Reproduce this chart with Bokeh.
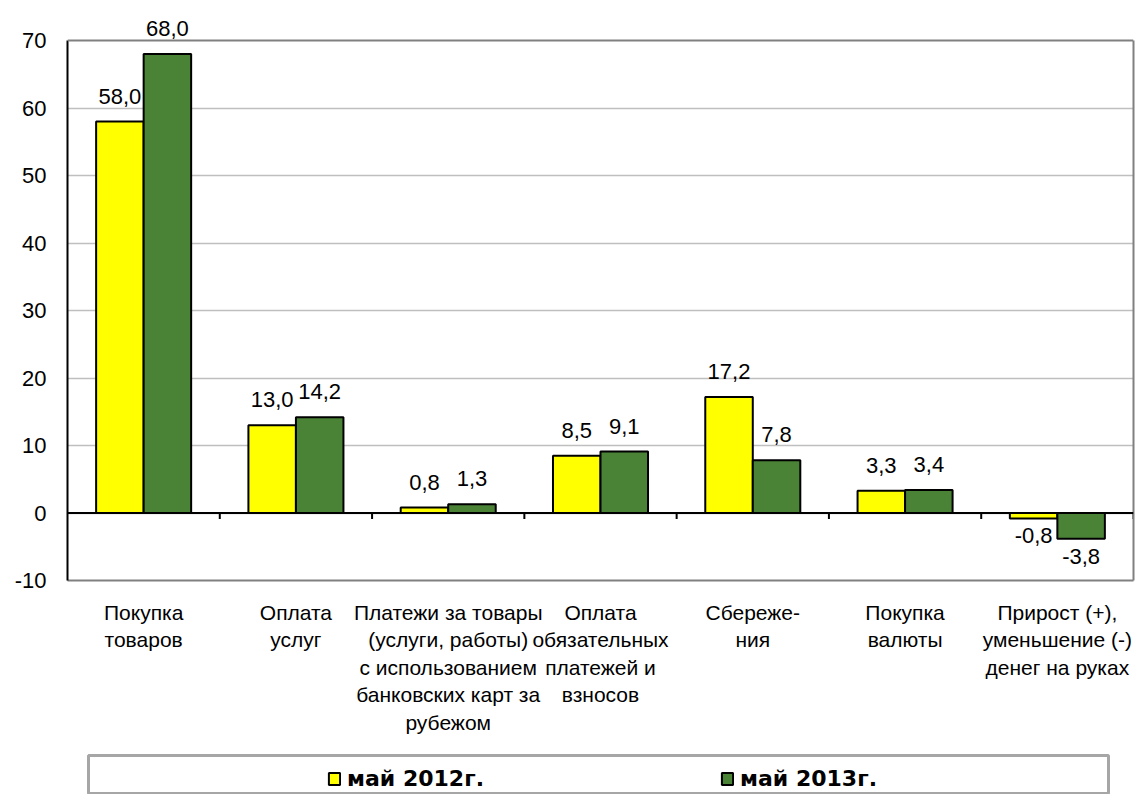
import numpy as np
from bokeh.plotting import figure
from bokeh.models import (Range1d, FixedTicker, Span, Legend, LegendItem, ColumnDataSource,
                          LabelSet, LinearAxis)
from bokeh.core.properties import value
from bokeh.layouts import column
from bokeh.embed import file_html
from bokeh.resources import INLINE

categories = [
    "Покупка\nтоваров",
    "Оплата\nуслуг",
    "Платежи за товары\n(услуги, работы)\nс использованием\nбанковских карт за\nрубежом",
    "Оплата\nобязательных\nплатежей и\nвзносов",
    "Сбереже-\nния",
    "Покупка\nвалюты",
    "Прирост (+),\nуменьшение (-)\nденег на руках",
]
may_2012 = [58.0, 13.0, 0.8, 8.5, 17.2, 3.3, -0.8]
may_2013 = [68.0, 14.2, 1.3, 9.1, 7.8, 3.4, -3.8]
series_names = ["май 2012г.", "май 2013г."]
y_ticks = [-10, 0, 10, 20, 30, 40, 50, 60, 70]

FONT = "Liberation Sans"
YELLOW = "#FFFF00"
GREEN = "#4A8236"
BORDER = "#808080"
n = len(categories)
bw = 0.312

def fmt(v):
    return f"{v:.1f}".replace(".", ",")

centers = [i + 0.5 for i in range(n)]
y_lo, y_hi = y_ticks[0], y_ticks[-1]
# a little head-room above the top tick so the label of the tallest bar is not cut
y_top = y_hi + 26 / 6.75

p = figure(width=1136, height=751, output_backend="svg", toolbar_location=None,
           x_range=Range1d(0, n), y_range=Range1d(y_lo, y_top),
           min_border_left=67, min_border_right=3, min_border_top=14, min_border_bottom=171)
p.frame_align = False
p.outline_line_color = None
p.background_fill_color = "white"
p.border_fill_color = "white"

# grid
p.xgrid.grid_line_color = None
p.ygrid.grid_line_color = "#BFBFBF"
p.ygrid.grid_line_width = 1.5
p.ygrid.ticker = FixedTicker(ticks=y_ticks[:-1])

# y axis (left)
p.yaxis.ticker = FixedTicker(ticks=y_ticks)
p.yaxis.bounds = (y_lo, y_hi)
p.yaxis.major_label_overrides = {t: str(t) for t in y_ticks}
p.yaxis.axis_line_color = "black"
p.yaxis.axis_line_width = 2
p.yaxis.major_tick_line_color = None
p.yaxis.major_tick_out = 0
p.yaxis.minor_tick_line_color = None
p.yaxis.major_label_text_font = FONT
p.yaxis.major_label_text_font_size = "22px"
p.yaxis.major_label_text_color = "black"
p.yaxis.major_label_standoff = 21

# plot-area border on the right and top
right_axis = LinearAxis(bounds=(y_lo, y_hi), ticker=FixedTicker(ticks=[]),
                        axis_line_color=BORDER, axis_line_width=2,
                        major_tick_line_color=None, minor_tick_line_color=None,
                        major_tick_out=0, major_tick_in=0, minor_tick_out=0, minor_tick_in=0,
                        major_label_text_font_size="0px", major_label_standoff=0)
p.add_layout(right_axis, "right")
p.add_layout(Span(location=y_hi, dimension="width", line_color=BORDER, line_width=2))

# x axis with category labels
p.xaxis.ticker = FixedTicker(ticks=centers)
p.xaxis.major_label_overrides = {c: lab for c, lab in zip(centers, categories)}
p.xaxis.axis_line_color = BORDER
p.xaxis.axis_line_width = 2
p.xaxis.major_tick_line_color = None
p.xaxis.major_tick_out = 0
p.xaxis.minor_tick_line_color = None
p.xaxis.major_label_text_font = FONT
p.xaxis.major_label_text_font_size = "21px"
p.xaxis.major_label_text_color = "black"
p.xaxis.major_label_standoff = 20

# bars
x12 = [c - bw / 2 for c in centers]
x13 = [c + bw / 2 for c in centers]
src12 = ColumnDataSource(dict(x=x12, top=may_2012))
src13 = ColumnDataSource(dict(x=x13, top=may_2013))
p.vbar(x="x", top="top", bottom=0, width=bw, source=src12, fill_color=YELLOW, line_color="black", line_width=2)
p.vbar(x="x", top="top", bottom=0, width=bw, source=src13, fill_color=GREEN, line_color="black", line_width=2)

# zero line and category separator ticks
p.add_layout(Span(location=0, dimension="width", line_color="black", line_width=2))
bounds = [float(i) for i in range(1, n + 1)]
p.segment(x0=bounds, y0=[0] * len(bounds), x1=bounds, y1=[-0.9] * len(bounds), line_color="black", line_width=2)

# data labels
xs_all = x12 + x13
vals_all = may_2012 + may_2013
pos_src = ColumnDataSource(dict(
    x=[x for x, v in zip(xs_all, vals_all) if v >= 0],
    y=[v for v in vals_all if v >= 0],
    t=[fmt(v) for v in vals_all if v >= 0]))
neg_src = ColumnDataSource(dict(
    x=[x for x, v in zip(xs_all, vals_all) if v < 0],
    y=[v for v in vals_all if v < 0],
    t=[fmt(v) for v in vals_all if v < 0]))
p.add_layout(LabelSet(x="x", y="y", text="t", source=pos_src, text_align="center",
                      text_baseline="bottom", y_offset=18, text_font=value(FONT),
                      text_font_size=value("22px"), text_color="black"))
p.add_layout(LabelSet(x="x", y="y", text="t", source=neg_src, text_align="center",
                      text_baseline="top", y_offset=-10, text_font=value(FONT),
                      text_font_size=value("22px"), text_color="black"))

# legend panel: its frame is the grey legend box
p2 = figure(width=1136, height=43, output_backend="svg", toolbar_location=None,
            x_range=Range1d(0, 1), y_range=Range1d(0, 1),
            x_axis_location=None, y_axis_location=None,
            min_border_left=88, min_border_right=28, min_border_top=4, min_border_bottom=0)
p2.frame_align = False
p2.grid.grid_line_color = None
p2.outline_line_color = "#A6A6A6"
p2.outline_line_width = 3
p2.border_fill_color = "white"

# swatch-only renderers for the legend (no drawable data)
nan_src1 = ColumnDataSource(dict(x=np.array([np.nan]), top=np.array([np.nan])))
nan_src2 = ColumnDataSource(dict(x=np.array([np.nan]), top=np.array([np.nan])))
l1 = p2.vbar(x="x", top="top", bottom=0, width=0.1, source=nan_src1,
             fill_color=YELLOW, line_color="black", line_width=2)
l2 = p2.vbar(x="x", top="top", bottom=0, width=0.1, source=nan_src2,
             fill_color=GREEN, line_color="black", line_width=2)
leg = Legend(items=[LegendItem(label=series_names[0], renderers=[l1]),
                    LegendItem(label=series_names[1], renderers=[l2])],
             orientation="horizontal", location=(239, 3), padding=0, margin=0, spacing=0,
             glyph_width=14, glyph_height=15, label_standoff=6, label_width=373,
             label_text_font="DejaVu Sans", label_text_font_size="22px", label_text_font_style="bold",
             label_text_color="black", border_line_color=None, background_fill_alpha=0)
p2.add_layout(leg)

layout = column(p, p2, spacing=0)
open("out.html", "w").write(file_html(layout, INLINE))
